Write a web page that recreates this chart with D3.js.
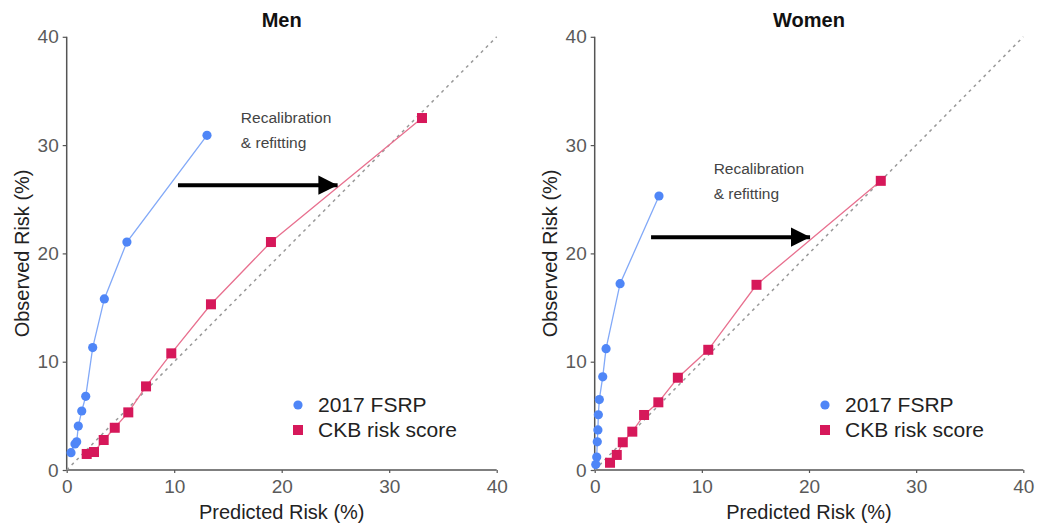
<!DOCTYPE html>
<html>
<head>
<meta charset="utf-8">
<script src="https://cdn.jsdelivr.net/npm/d3@7"></script>
<style>
  body { margin: 0; background: #fff; }
  svg { display: block; font-family: "Liberation Sans", Arial, sans-serif; }
</style>
</head>
<body>
<svg id="chart" width="1038" height="527"></svg>
<script>
// ---- data ----
const panels = ["Men", "Women"];
const ticks = [0, 10, 20, 30, 40];
const seriesNames = ["2017 FSRP", "CKB risk score"];

const menFsrpX = [0.40, 0.77, 0.93, 1.08, 1.40, 1.77, 2.42, 3.50, 5.60, 13.05];
const menFsrpY = [1.6, 2.4, 2.6, 4.06, 5.45, 6.8, 11.3, 15.8, 21.05, 30.9];
const menCkbX = [1.86, 2.54, 3.44, 4.47, 5.73, 7.38, 9.73, 13.42, 19.0, 33.05];
const menCkbY = [1.48, 1.66, 2.77, 3.9, 5.32, 7.72, 10.77, 15.3, 21.05, 32.5];

const womenFsrpX = [0.10, 0.19, 0.24, 0.30, 0.34, 0.43, 0.75, 1.06, 2.37, 6.0];
const womenFsrpY = [0.5, 1.2, 2.6, 3.7, 5.1, 6.5, 8.6, 11.2, 17.2, 25.3];
const womenCkbX = [1.43, 2.06, 2.62, 3.51, 4.61, 5.94, 7.76, 10.6, 15.1, 26.7];
const womenCkbY = [0.67, 1.39, 2.56, 3.54, 5.08, 6.25, 8.52, 11.1, 17.1, 26.7];

// annotation arrows (data units): [x0, x1, y]
const menArrow = [10.35, 25.2, 26.3];
const womenArrow = [5.26, 20.1, 21.5];
const menNote = [16.2, 32.0];
const womenNote = [11.1, 27.3];
const noteLines = ["Recalibration", "& refitting"];

const blue = "#4f86f7", blueLine = "#82a9f8";
const red = "#d6185a", redLine = "#e8708f";

const svg = d3.select("#chart");
const defs = svg.append("defs");
defs.append("marker").attr("id", "ah").attr("viewBox", "0 0 10 10")
  .attr("refX", 10).attr("refY", 5).attr("markerWidth", 4.8).attr("markerHeight", 5.2)
  .attr("markerUnits", "strokeWidth").attr("orient", "auto")
  .append("path").attr("d", "M0,0 L10,5 L0,10 Z").attr("fill", "#000");

const zip = (xs, ys) => xs.map((x, i) => [x, ys[i]]);

const configs = [
  { title: panels[0], xr: [66.7, 496.7], fsrp: zip(menFsrpX, menFsrpY), ckb: zip(menCkbX, menCkbY),
    arrow: menArrow, note: menNote, ylabX: 22, legX: 298 },
  { title: panels[1], xr: [594.7, 1023.3], fsrp: zip(womenFsrpX, womenFsrpY), ckb: zip(womenCkbX, womenCkbY),
    arrow: womenArrow, note: womenNote, ylabX: 550, legX: 825 }
];

configs.forEach(c => {
  const x = d3.scaleLinear().domain([0, 40]).range(c.xr);
  const y = d3.scaleLinear().domain([0, 40]).range([470, 36.8]);
  const g = svg.append("g");

  // axes
  const xa = g.append("g").attr("transform", "translate(0,470)")
    .call(d3.axisBottom(x).tickValues(ticks).tickSize(3).tickPadding(7));
  const ya = g.append("g").attr("transform", `translate(${c.xr[0]},0)`)
    .call(d3.axisLeft(y).tickValues(ticks).tickSize(4).tickPadding(4));
  [xa, ya].forEach(a => {
    a.select(".domain").attr("stroke", "#555").attr("stroke-width", 1.5);
    a.selectAll(".tick line").attr("stroke", "#555").attr("stroke-width", 1.2);
    a.selectAll("text").attr("fill", "#5a5a5a").style("font-size", "19px");
  });
  xa.select(".domain").attr("d", `M${c.xr[0]},0H${c.xr[1]}`);
  ya.select(".domain").attr("d", `M0,${y(40)}V${y(0)}`);

  // diagonal reference line
  g.append("line").attr("x1", x(0)).attr("y1", y(0)).attr("x2", x(40)).attr("y2", y(40))
    .attr("stroke", "#999").attr("stroke-width", 1.5).attr("stroke-dasharray", "3,4");

  const line = d3.line().x(d => x(d[0])).y(d => y(d[1]));
  g.append("path").datum(c.fsrp).attr("d", line).attr("fill", "none")
    .attr("stroke", blueLine).attr("stroke-width", 1.3);
  g.append("path").datum(c.ckb).attr("d", line).attr("fill", "none")
    .attr("stroke", redLine).attr("stroke-width", 1.3);

  g.selectAll(".pt").data(c.fsrp).join("circle")
    .attr("cx", d => x(d[0])).attr("cy", d => y(d[1])).attr("r", 4.6).attr("fill", blue);
  g.selectAll(".sq").data(c.ckb).join("rect")
    .attr("x", d => x(d[0]) - 5).attr("y", d => y(d[1]) - 5)
    .attr("width", 10).attr("height", 10).attr("fill", red);

  // arrow
  g.append("line").attr("x1", x(c.arrow[0])).attr("x2", x(c.arrow[1]))
    .attr("y1", y(c.arrow[2])).attr("y2", y(c.arrow[2]))
    .attr("stroke", "#000").attr("stroke-width", 4).attr("marker-end", "url(#ah)");

  // note text
  g.append("text").attr("x", x(c.note[0])).attr("y", y(c.note[1]))
    .attr("fill", "#444").style("font-size", "15.5px")
    .selectAll("tspan").data(noteLines).join("tspan")
    .attr("x", x(c.note[0])).attr("dy", (d, i) => i === 0 ? 0 : 25).text(d => d);

  // title
  g.append("text").attr("x", (c.xr[0] + c.xr[1]) / 2).attr("y", 27)
    .attr("text-anchor", "middle").style("font-size", "20px").style("font-weight", "bold")
    .attr("fill", "#111").text(c.title);

  // axis titles
  g.append("text").attr("x", (c.xr[0] + c.xr[1]) / 2).attr("y", 519)
    .attr("text-anchor", "middle").style("font-size", "20px").attr("fill", "#222")
    .text("Predicted Risk (%)");
  g.append("text").attr("transform", `translate(${c.ylabX},${y(20)}) rotate(-90)`)
    .attr("text-anchor", "middle").attr("dy", "0.35em").style("font-size", "20px").attr("fill", "#222")
    .text("Observed Risk (%)");

  // legend
  const lg = g.append("g");
  lg.append("circle").attr("cx", c.legX).attr("cy", 405).attr("r", 4.6).attr("fill", blue);
  lg.append("rect").attr("x", c.legX - 5).attr("y", 425).attr("width", 10).attr("height", 10).attr("fill", red);
  lg.selectAll("text").data(seriesNames).join("text")
    .attr("x", c.legX + 20).attr("y", (d, i) => 405 + i * 25).attr("dy", "0.35em")
    .style("font-size", "21px").attr("fill", "#222").text(d => d);
});
</script>
</body>
</html>
